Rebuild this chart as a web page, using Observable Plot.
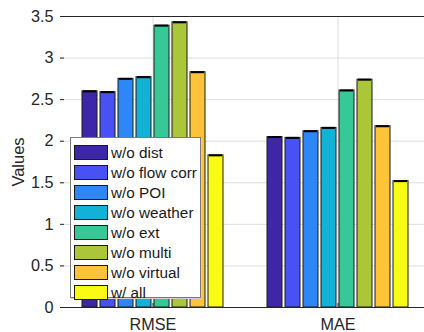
<!DOCTYPE html>
<html><head><meta charset="utf-8">
<script src="https://cdn.jsdelivr.net/npm/d3@7"></script>
<script src="https://cdn.jsdelivr.net/npm/@observablehq/plot@0.6"></script>
<style>
body{margin:0;background:#fff;font-family:"Liberation Sans",Arial,Helvetica,sans-serif}
#wrap{position:relative;width:424px;height:332px;overflow:hidden;background:#fff}
#wrap svg{overflow:hidden}
#legend{position:absolute;left:70px;top:137px;width:131px;height:161px;box-sizing:border-box;border:1px solid #7a7a7a;background:#fff;box-shadow:1px 1px 0 #cfcfcf;padding-top:4px}
.row{display:flex;align-items:center;height:20px}
.sw{width:34px;height:15px;border:1px solid #1a1a1a;margin-left:3px;margin-right:3px;box-sizing:border-box}
.lab{font-size:15.3px;color:#1a1a1a;line-height:15px}
</style>
</head><body>
<div id="wrap"><div id="chart"></div><div id="legend"></div></div>
<script>
const groups = ["RMSE", "MAE"];
const series = ["w/o dist", "w/o flow corr", "w/o POI", "w/o weather", "w/o ext", "w/o multi", "w/o virtual", "w/ all"];
const rmseValues = [2.60, 2.59, 2.75, 2.77, 3.39, 3.43, 2.83, 1.83];
const maeValues = [2.05, 2.04, 2.12, 2.16, 2.61, 2.74, 2.18, 1.52];
const colors = ["#3e26a8", "#4852f4", "#2e87f7", "#12b1d6", "#37c897", "#abc739", "#fec338", "#f9fb15"];
const yTicks = [0, 0.5, 1, 1.5, 2, 2.5, 3, 3.5];
const yTickLabels = ["0", "0.5", "1", "1.5", "2", "2.5", "3", "3.5"];

const data = [];
series.forEach((s, i) => data.push({group: "RMSE", series: s, value: rmseValues[i]}));
series.forEach((s, i) => data.push({group: "MAE", series: s, value: maeValues[i]}));

const ink = "#262626";
const chart = Plot.plot({
  width: 424, height: 332,
  marginTop: 16, marginBottom: 25, marginLeft: 60, marginRight: -6,
  style: {fontFamily: '"Liberation Sans", Arial, sans-serif', fontSize: "16px", color: ink, background: "#fff"},
  fx: {domain: groups, padding: 0, label: null},
  x: {domain: series, paddingInner: 0.19, paddingOuter: 1.1, axis: null},
  y: {domain: [0, 3.5], label: null},
  color: {domain: series, range: colors},
  marks: [
    Plot.gridY(yTicks, {stroke: "#dedede", strokeOpacity: 1}),
    Plot.gridFx({stroke: "#dedede", strokeOpacity: 1}),
    Plot.barY(data, {fx: "group", x: "series", y: "value", fill: "series", stroke: "#1a1a1a", strokeWidth: 1}),
    Plot.tickY(data, {fx: "group", x: "series", y: "value", stroke: "#000", strokeWidth: 2, insetLeft: 1, insetRight: 1}),
    Plot.ruleY([0], {stroke: ink}),
    Plot.ruleY([3.5], {stroke: ink}),
    Plot.axisY(yTicks, {tickSize: 0, tickPadding: 7, tickFormat: (d, i) => yTickLabels[i], label: null, fontSize: 16.2, line: true, stroke: ink, color: ink}),
    Plot.axisY(yTicks, {tickSize: 0, tickFormat: () => "", label: "Values", labelArrow: "none", labelAnchor: "center", labelOffset: 48, fontSize: 16.5, color: ink}),
    Plot.axisY(yTicks, {tickSize: 4, dx: 4, tickFormat: () => "", label: null, stroke: ink}),
    Plot.axisFx({anchor: "bottom", tickSize: 0, tickPadding: 10.5, label: null, fontSize: 16.2, color: ink}),
    Plot.axisFx({anchor: "bottom", tickSize: 4, dy: -4, tickFormat: () => "", label: null, stroke: ink})
  ]
});
document.getElementById("chart").appendChild(chart);

const legend = document.getElementById("legend");
series.forEach((s, i) => {
  const row = document.createElement("div");
  row.className = "row";
  const sw = document.createElement("div");
  sw.className = "sw";
  sw.style.background = colors[i];
  const lab = document.createElement("span");
  lab.className = "lab";
  lab.textContent = s;
  row.appendChild(sw); row.appendChild(lab);
  legend.appendChild(row);
});
</script>
</body></html>
